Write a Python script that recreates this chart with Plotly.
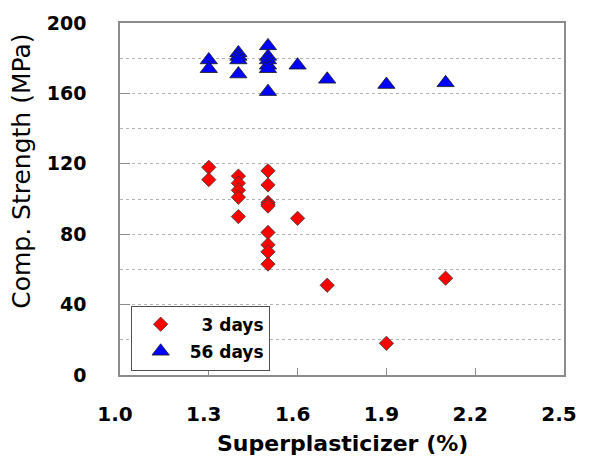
import plotly.graph_objects as go

# Superplasticizer dosage (%) and compressive strength (MPa)
sp_3d = [1.3, 1.3,
         1.4, 1.4, 1.4, 1.4, 1.4,
         1.5, 1.5, 1.5, 1.5, 1.5, 1.5, 1.5, 1.5, 1.5,
         1.6, 1.7, 1.9, 2.1]
fc_3d = [118, 111,
         113, 109, 105, 101, 90,
         116, 108, 98, 97, 96, 81, 74, 70, 63,
         89, 51, 18, 55]

sp_56d = [1.3, 1.3,
          1.4, 1.4, 1.4, 1.4,
          1.5, 1.5, 1.5, 1.5, 1.5, 1.5,
          1.6, 1.7, 1.9, 2.1]
fc_56d = [179, 174,
          183, 181, 179, 171,
          187, 181, 179, 176, 174, 161,
          176, 168, 165, 166]

x_ticks = [1.0, 1.3, 1.6, 1.9, 2.2, 2.5]
y_ticks = [0, 40, 80, 120, 160, 200]

FONT = "DejaVu Sans"
AXIS_GREY = "#8c8c8c"
GRID_GREY = "#b4b4b4"

fig = go.Figure()

fig.add_trace(go.Scatter(
    x=sp_3d, y=fc_3d, mode="markers", name="\u20073 days",
    legendgroup="a",
    marker=dict(symbol="diamond", size=11, color="#ff0000",
                line=dict(color="#3a3a3a", width=0.8)),
))
fig.add_trace(go.Scatter(
    x=sp_56d, y=fc_56d, mode="markers", name="56 days",
    legendgroup="b",
    marker=dict(symbol="triangle-up", size=15, color="#0000ff",
                line=dict(color="#1a1a1a", width=0.8)),
))

fig.update_layout(
    width=589, height=458,
    margin=dict(l=120, r=16, t=20, b=83),
    paper_bgcolor="white", plot_bgcolor="white",
    font=dict(family=FONT, color="black"),
    showlegend=True,
    legend=dict(
        x=0.024, y=0.197, xanchor="left", yanchor="top",
        bgcolor="white", bordercolor="#505050", borderwidth=1,
        font=dict(family=FONT, size=17, weight="bold", color="black"),
        traceorder="grouped", tracegroupgap=2, itemwidth=48,
    ),
    annotations=[
        dict(text="Superplasticizer (%)", xref="paper", yref="paper",
             x=0.5, y=-0.196, xanchor="center", yanchor="middle",
             showarrow=False,
             font=dict(family=FONT, size=22, weight="bold", color="black")),
        dict(text="Comp. Strength (MPa)", xref="paper", yref="paper",
             x=-0.2205, y=0.5775, xanchor="center", yanchor="middle",
             textangle=-90, showarrow=False,
             font=dict(family=FONT, size=25, color="black")),
    ],
)

fig.update_xaxes(
    range=[1.0, 2.5], tickvals=x_ticks, tickformat=".1f",
    ticks="inside", ticklen=7, tickcolor=AXIS_GREY, tickwidth=1,
    showline=True, linecolor=AXIS_GREY, linewidth=1.5, mirror=True,
    showgrid=False, zeroline=False,
    tickfont=dict(family=FONT, size=20, weight="bold", color="black"),
    ticklabelstandoff=20, ticklabelshift=-5,
)
fig.update_yaxes(
    range=[0, 200], tickvals=y_ticks,
    ticks="inside", ticklen=10, tickcolor=AXIS_GREY, tickwidth=1,
    showline=True, linecolor=AXIS_GREY, linewidth=1.5, mirror=True,
    showgrid=True, gridcolor=GRID_GREY, griddash="dot", gridwidth=1,
    minor=dict(dtick=20, showgrid=True, gridcolor=GRID_GREY,
               griddash="dot", gridwidth=1, ticks=""),
    zeroline=False,
    tickfont=dict(family=FONT, size=19, weight="bold", color="black"),
    ticklabelstandoff=28,
)

fig.write_html("out.html")
